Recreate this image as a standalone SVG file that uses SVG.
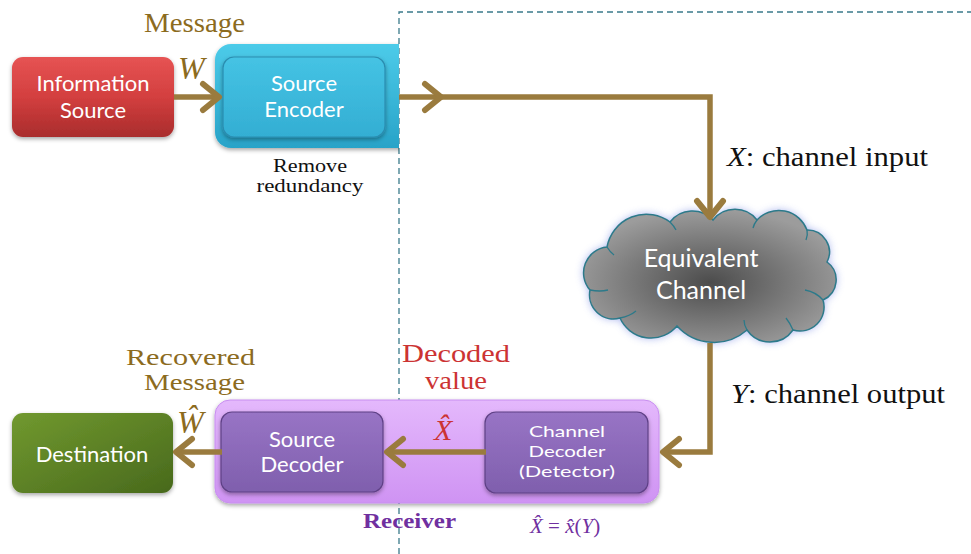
<svg xmlns="http://www.w3.org/2000/svg" width="971" height="554" viewBox="0 0 971 554">
<defs>
<linearGradient id="gRed" x1="0" y1="0" x2="0" y2="1">
<stop offset="0" stop-color="#e65353"/><stop offset="0.5" stop-color="#d33f3f"/><stop offset="1" stop-color="#a92c2c"/>
</linearGradient>
<linearGradient id="gBlueOuter" x1="0" y1="0" x2="0" y2="1">
<stop offset="0" stop-color="#4ccbe9"/><stop offset="1" stop-color="#28a3c8"/>
</linearGradient>
<linearGradient id="gBlueInner" x1="0" y1="0" x2="0" y2="1">
<stop offset="0" stop-color="#45c3e4"/><stop offset="1" stop-color="#33aed3"/>
</linearGradient>
<linearGradient id="gGreen" x1="0" y1="0" x2="1" y2="1">
<stop offset="0" stop-color="#71992f"/><stop offset="1" stop-color="#48691c"/>
</linearGradient>
<linearGradient id="gPurpleOuter" x1="0" y1="0" x2="0" y2="1">
<stop offset="0" stop-color="#e4b8fc"/><stop offset="1" stop-color="#cf93f3"/>
</linearGradient>
<linearGradient id="gPurpleInner" x1="0" y1="0" x2="0" y2="1">
<stop offset="0" stop-color="#9874c5"/><stop offset="1" stop-color="#7f5fad"/>
</linearGradient>
<radialGradient id="gCloud" cx="0.5" cy="0.55" r="0.55">
<stop offset="0" stop-color="#4c4c4c"/><stop offset="1" stop-color="#9c9c9c"/>
</radialGradient>
<filter id="shadow" x="-10%" y="-10%" width="120%" height="130%">
<feDropShadow dx="0" dy="2" stdDeviation="2" flood-color="#000" flood-opacity="0.35"/>
</filter>
<filter id="glow" x="-20%" y="-20%" width="140%" height="140%">
<feGaussianBlur stdDeviation="4"/>
</filter>
<clipPath id="clipEnc"><rect x="0" y="0" width="399" height="554"/></clipPath>
<marker id="chev" markerUnits="userSpaceOnUse" viewBox="-24 -18 30 36" markerWidth="30" markerHeight="36" refX="0" refY="0" orient="auto">
<path d="M-16,-13 L0,0 L-16,13" fill="none" stroke="#9a7b3e" stroke-width="6" stroke-linecap="round" stroke-linejoin="round"/>
</marker>
</defs>
<style>
.conn{fill:none;stroke:#9a7b3e;stroke-width:5.5;stroke-linejoin:miter;}
.bt{font-family:Lato,"Open Sans",sans-serif;fill:#ffffff;text-anchor:middle;}
.sf{font-family:"Liberation Serif",serif;}
.brown{fill:#8c6b1e;}
.red{fill:#cc3333;}
.purple{fill:#7030a0;}
</style>

<path d="M399,554 V12 H971" fill="none" stroke="#3a7a8a" stroke-width="1.3" stroke-dasharray="6,4"/>

<g id="info-source">
<rect x="12" y="57" width="162" height="80" rx="11" fill="url(#gRed)" filter="url(#shadow)"/>
<text class="bt" font-size="22" x="93" y="91">Information</text>
<text class="bt" font-size="22" x="93" y="118">Source</text>
</g>

<g id="source-encoder">
<g clip-path="url(#clipEnc)">
<rect x="215" y="44" width="230" height="104" rx="16" fill="url(#gBlueOuter)" filter="url(#shadow)"/>
</g>
<rect x="223" y="57" width="162" height="80" rx="11" fill="url(#gBlueInner)" stroke="#2a8db0" stroke-width="1.2" filter="url(#shadow)"/>
<text class="bt" font-size="22" x="304" y="91">Source</text>
<text class="bt" font-size="22" x="304" y="117">Encoder</text>
</g>

<g id="channel">
<path d="M607,247 A40,40 0 0 1 670,222 A28,28 0 0 1 713,220 A28,28 0 0 1 757,220 A30,30 0 0 1 807,230 A22,22 0 0 1 827,262 A22,22 0 0 1 823,300 A24,24 0 0 1 793,330 A28,28 0 0 1 747,330 A50,50 0 0 1 677,326 A34,34 0 0 1 620,318 A24,24 0 0 1 590,290 A26,26 0 0 1 607,247 Z" fill="#8494e6" opacity="0.75" filter="url(#glow)"/>
<path d="M607,247 A40,40 0 0 1 670,222 A28,28 0 0 1 713,220 A28,28 0 0 1 757,220 A30,30 0 0 1 807,230 A22,22 0 0 1 827,262 A22,22 0 0 1 823,300 A24,24 0 0 1 793,330 A28,28 0 0 1 747,330 A50,50 0 0 1 677,326 A34,34 0 0 1 620,318 A24,24 0 0 1 590,290 A26,26 0 0 1 607,247 Z" fill="url(#gCloud)" stroke="#2c7a8a" stroke-width="1.5"/>
<g fill="none" stroke="#2c7a8a" stroke-width="1.3">
<path d="M607,247 Q610,252 614,255"/>
<path d="M670,222 Q674,226 676,230"/>
<path d="M757,220 Q754,224 753,228"/>
<path d="M807,230 Q808,235 806,240"/>
<path d="M823,300 Q816,292 805,290"/>
<path d="M793,330 Q790,323 786,318"/>
<path d="M747,330 Q744,325 744,320"/>
<path d="M620,318 Q630,316 636,311"/>
<path d="M590,290 Q600,292 608,290"/>
</g>
<text class="bt" font-size="25" x="701" y="267">Equivalent</text>
<text class="bt" font-size="25" x="701" y="299">Channel</text>
</g>

<g id="receiver">
<rect x="215" y="400" width="444" height="103" rx="15" fill="url(#gPurpleOuter)" stroke="#c88ef0" stroke-width="1" filter="url(#shadow)"/>
<text class="sf purple" font-size="20" font-weight="bold" x="363" y="528" textLength="93" lengthAdjust="spacingAndGlyphs">Receiver</text>
</g>

<g id="source-decoder">
<rect x="221" y="412" width="162" height="80" rx="11" fill="url(#gPurpleInner)" stroke="#5f4186" stroke-width="1.2" filter="url(#shadow)"/>
<text class="bt" font-size="22" x="302" y="447">Source</text>
<text class="bt" font-size="22" x="302" y="472">Decoder</text>
</g>

<g id="channel-decoder">
<rect x="485" y="412" width="163" height="81" rx="11" fill="url(#gPurpleInner)" stroke="#5f4186" stroke-width="1.2" filter="url(#shadow)"/>
<text class="bt" font-size="16" x="567" y="437" textLength="76" lengthAdjust="spacingAndGlyphs">Channel</text>
<text class="bt" font-size="16" x="567" y="457" textLength="77" lengthAdjust="spacingAndGlyphs">Decoder</text>
<text class="bt" font-size="16" x="567" y="477" textLength="96" lengthAdjust="spacingAndGlyphs">(Detector)</text>
</g>

<g id="destination">
<rect x="12" y="413" width="161" height="80" rx="11" fill="url(#gGreen)" filter="url(#shadow)"/>
<text class="bt" font-size="22" x="92" y="462">Destination</text>
</g>

<g id="connectors">
<path class="conn" d="M174,97 H219" marker-end="url(#chev)"/>
<path class="conn" d="M399,97 H441" marker-end="url(#chev)"/>
<path class="conn" d="M441,97 H710 V217" marker-end="url(#chev)"/>
<path class="conn" d="M710,343 V452 H663" marker-end="url(#chev)"/>
<path class="conn" d="M486,452 H387" marker-end="url(#chev)"/>
<path class="conn" d="M222,452 H176" marker-end="url(#chev)"/>
</g>

<g id="labels">
<text class="sf brown" font-size="28" x="144" y="32" textLength="101" lengthAdjust="spacingAndGlyphs">Message</text>
<text class="sf brown" font-size="32" font-style="italic" x="178" y="79">W</text>
<text class="sf" font-size="19" fill="#111" x="310" y="172" text-anchor="middle" textLength="74" lengthAdjust="spacingAndGlyphs">Remove</text>
<text class="sf" font-size="19" fill="#111" x="310" y="192" text-anchor="middle" textLength="107" lengthAdjust="spacingAndGlyphs">redundancy</text>
<text class="sf" font-size="27" fill="#111" x="727" y="166" textLength="201" lengthAdjust="spacingAndGlyphs"><tspan font-style="italic">X</tspan>: channel input</text>
<text class="sf" font-size="27" fill="#111" x="731" y="403" textLength="214" lengthAdjust="spacingAndGlyphs"><tspan font-style="italic">Y</tspan>: channel output</text>
<text class="sf brown" font-size="23" x="126" y="365" textLength="129" lengthAdjust="spacingAndGlyphs">Recovered</text>
<text class="sf brown" font-size="23" x="144" y="390" textLength="101" lengthAdjust="spacingAndGlyphs">Message</text>
<text class="sf brown" font-size="32" font-style="italic" x="177" y="433">Ŵ</text>
<text class="sf red" font-size="25" x="402" y="362" textLength="108" lengthAdjust="spacingAndGlyphs">Decoded</text>
<text class="sf red" font-size="25" x="425" y="389" textLength="62" lengthAdjust="spacingAndGlyphs">value</text>
<text class="sf red" font-size="30" font-style="italic" x="434" y="440">X̂</text>
<text class="sf purple" font-size="21" x="530" y="533"><tspan font-style="italic">X̂</tspan> = <tspan font-style="italic">x̂</tspan>(<tspan font-style="italic">Y</tspan>)</text>
</g>
</svg>
